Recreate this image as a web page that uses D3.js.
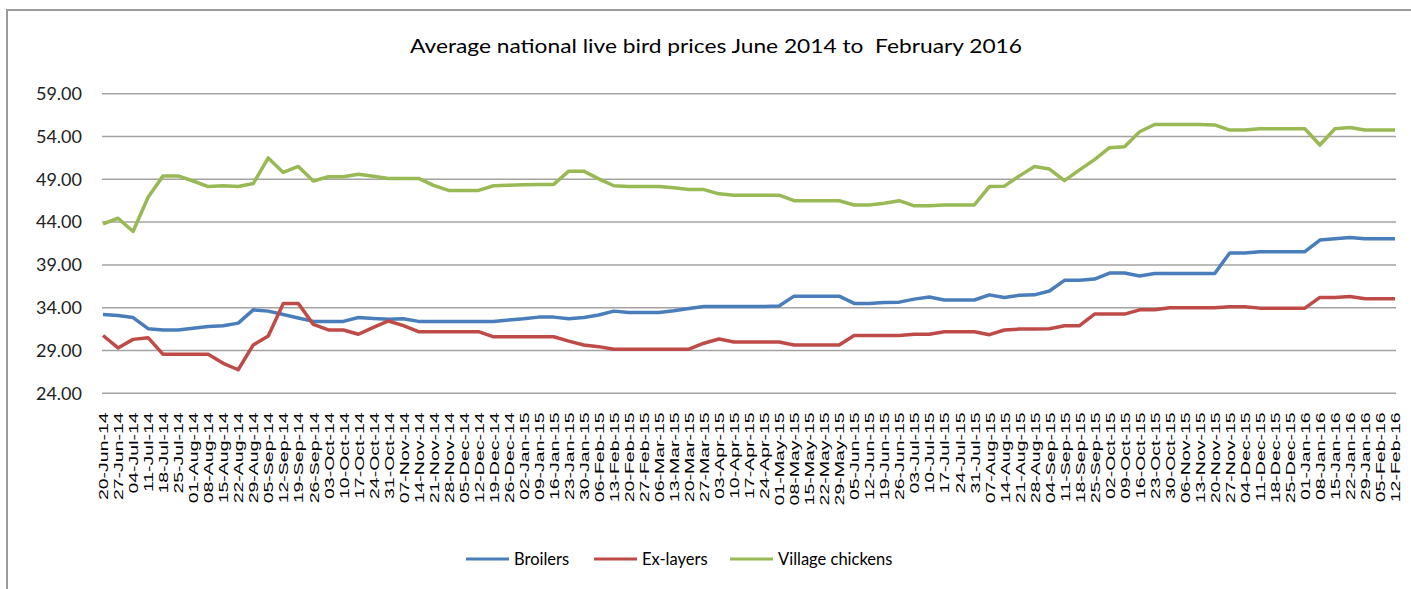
<!DOCTYPE html>
<html>
<head>
<meta charset="utf-8">
<script src="https://cdn.jsdelivr.net/npm/d3@7"></script>
<style>
  html, body { margin: 0; padding: 0; background: #fff; }
  svg { display: block; }
</style>
</head>
<body>
<svg id="chart" width="1411" height="589"></svg>
<script>
const title = "Average national live bird prices June 2014 to  February 2016";
const dates = ["20-Jun-14","27-Jun-14","04-Jul-14","11-Jul-14","18-Jul-14","25-Jul-14","01-Aug-14","08-Aug-14","15-Aug-14","22-Aug-14","29-Aug-14","05-Sep-14","12-Sep-14","19-Sep-14","26-Sep-14","03-Oct-14","10-Oct-14","17-Oct-14","24-Oct-14","31-Oct-14","07-Nov-14","14-Nov-14","21-Nov-14","28-Nov-14","05-Dec-14","12-Dec-14","19-Dec-14","26-Dec-14","02-Jan-15","09-Jan-15","16-Jan-15","23-Jan-15","30-Jan-15","06-Feb-15","13-Feb-15","20-Feb-15","27-Feb-15","06-Mar-15","13-Mar-15","20-Mar-15","27-Mar-15","03-Apr-15","10-Apr-15","17-Apr-15","24-Apr-15","01-May-15","08-May-15","15-May-15","22-May-15","29-May-15","05-Jun-15","12-Jun-15","19-Jun-15","26-Jun-15","03-Jul-15","10-Jul-15","17-Jul-15","24-Jul-15","31-Jul-15","07-Aug-15","14-Aug-15","21-Aug-15","28-Aug-15","04-Sep-15","11-Sep-15","18-Sep-15","25-Sep-15","02-Oct-15","09-Oct-15","16-Oct-15","23-Oct-15","30-Oct-15","06-Nov-15","13-Nov-15","20-Nov-15","27-Nov-15","04-Dec-15","11-Dec-15","18-Dec-15","25-Dec-15","01-Jan-16","08-Jan-16","15-Jan-16","22-Jan-16","29-Jan-16","05-Feb-16","12-Feb-16"];
const broilers = [33.2,33.1,32.85,31.55,31.4,31.4,31.6,31.8,31.9,32.2,33.75,33.6,33.2,32.8,32.4,32.4,32.4,32.85,32.75,32.65,32.7,32.4,32.4,32.4,32.4,32.4,32.4,32.55,32.7,32.9,32.9,32.7,32.85,33.15,33.6,33.45,33.45,33.45,33.65,33.9,34.15,34.15,34.15,34.15,34.15,34.2,35.35,35.35,35.35,35.35,34.5,34.5,34.6,34.65,35.0,35.25,34.9,34.9,34.9,35.5,35.2,35.45,35.5,35.95,37.2,37.2,37.35,38.05,38.05,37.7,38.0,38.0,38.0,38.0,38.0,40.4,40.4,40.55,40.55,40.55,40.55,41.9,42.05,42.2,42.05,42.05,42.05];
const exLayers = [30.75,29.3,30.3,30.5,28.55,28.55,28.55,28.55,27.5,26.75,29.65,30.7,34.5,34.5,32.05,31.4,31.4,30.9,31.7,32.45,31.9,31.2,31.2,31.2,31.2,31.2,30.6,30.6,30.6,30.6,30.6,30.1,29.65,29.45,29.15,29.15,29.15,29.15,29.15,29.15,29.85,30.35,30.0,30.0,30.0,30.0,29.65,29.65,29.65,29.65,30.75,30.75,30.75,30.75,30.9,30.9,31.2,31.2,31.2,30.85,31.4,31.5,31.5,31.55,31.9,31.9,33.25,33.25,33.25,33.75,33.75,34.0,34.0,34.0,34.0,34.1,34.1,33.95,33.95,33.95,33.95,35.2,35.2,35.3,35.05,35.05,35.05];
const village = [43.8,44.45,42.9,46.9,49.4,49.4,48.8,48.15,48.25,48.15,48.5,51.5,49.8,50.5,48.8,49.3,49.3,49.6,49.35,49.1,49.1,49.1,48.3,47.7,47.7,47.7,48.25,48.3,48.35,48.4,48.4,49.95,49.95,49.05,48.25,48.15,48.15,48.15,48.0,47.8,47.8,47.3,47.15,47.15,47.15,47.15,46.5,46.5,46.5,46.5,46.0,46.0,46.2,46.5,45.9,45.9,46.0,46.0,46.0,48.15,48.2,49.4,50.5,50.2,48.85,50.1,51.3,52.7,52.8,54.55,55.4,55.4,55.4,55.4,55.35,54.75,54.75,54.9,54.9,54.9,54.9,53.0,54.9,55.05,54.75,54.75,54.75];
const seriesNames = ["Broilers","Ex-layers","Village chickens"];
const seriesColors = ["#4a7ebb","#be4b48","#98b954"];
const yTicks = [24,29,34,39,44,49,54,59];

const seriesValues = [broilers, exLayers, village];
const svg = d3.select("#chart");

// outer chart border
svg.append("rect").attr("x",7).attr("y",10).attr("width",1440).attr("height",640)
  .attr("fill","none").attr("stroke","#9c9c9c").attr("stroke-width",2);

const x = d3.scalePoint().domain(dates).range([103, 1395]);
const y = d3.scaleLinear().domain([24, 59]).range([393.3, 93.7]);
const plotLeft = 102, plotRight = 1396;

// gridlines
svg.append("g").selectAll("line").data(yTicks).join("line")
  .attr("x1", plotLeft).attr("x2", plotRight)
  .attr("y1", d => y(d)).attr("y2", d => y(d))
  .attr("stroke", "#a3a3a3").attr("stroke-width", 1.5);

// y axis labels
const yAxis = d3.axisLeft(y).tickValues(yTicks).tickFormat(d => d.toFixed(2)).tickSize(0).tickPadding(20);
const yg = svg.append("g").attr("transform", `translate(${plotLeft},0)`).call(yAxis);
yg.select(".domain").remove();
yg.selectAll("text").attr("font-family","Lato, 'Open Sans', sans-serif").attr("font-size",18).attr("fill","#222");

// x axis labels
const xAxis = d3.axisBottom(x).tickSize(0).tickFormat(d => d);
const xg = svg.append("g").attr("transform", `translate(0,${y(24)})`).call(xAxis);
xg.select(".domain").remove();
xg.selectAll("text")
  .attr("font-family","'Liberation Sans', Arial, sans-serif")
  .attr("font-size",13)
  .attr("fill","#000")
  .attr("text-anchor","end")
  .attr("y",0).attr("dy","0.36em")
  .attr("transform","translate(0,19) rotate(-90) scale(1.5,1)");

// lines
const line = d3.line().x((d,i) => x(dates[i])).y(d => y(d));
svg.append("g").selectAll("path").data(seriesValues).join("path")
  .attr("d", d => line(d))
  .attr("fill","none")
  .attr("stroke",(d,i) => seriesColors[i])
  .attr("stroke-width",3.5)
  .attr("stroke-linejoin","round");

// title
svg.append("text").attr("x",716).attr("y",53).attr("text-anchor","middle")
  .attr("font-family","Lato, 'Open Sans', sans-serif").attr("font-size",20)
  .attr("textLength",612).attr("lengthAdjust","spacingAndGlyphs")
  .attr("fill","#000").attr("xml:space","preserve").style("white-space","pre")
  .text(title);

// legend
const legendPos = [466, 594, 730];
const lg = svg.append("g").selectAll("g").data(seriesNames).join("g")
  .attr("transform",(d,i) => `translate(${legendPos[i]},559)`);
lg.append("line").attr("x1",0).attr("x2",43).attr("y1",0).attr("y2",0)
  .attr("stroke",(d,i) => seriesColors[i]).attr("stroke-width",3);
lg.append("text").attr("x",48).attr("y",0).attr("dy","0.35em")
  .attr("font-family","Lato, 'Open Sans', sans-serif").attr("font-size",16.5).attr("fill","#000")
  .text(d => d);
</script>
</body>
</html>
